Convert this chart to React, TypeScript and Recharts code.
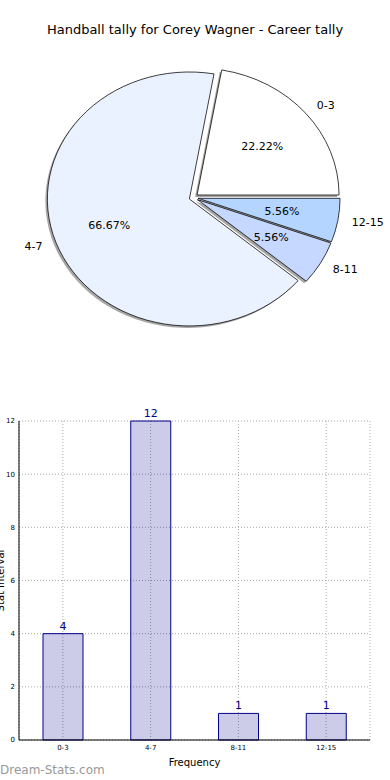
import { PieChart, Pie, Cell, BarChart, Bar, XAxis, YAxis, CartesianGrid, LabelList } from 'recharts';

const categories = ['0-3', '4-7', '8-11', '12-15'];
const counts = [4, 12, 1, 1];
const yTicks = [0, 2, 4, 6, 8, 10, 12];

const sliceColors = ['#ffffff', '#ebf2ff', '#c6d8ff', '#b3d5ff'];

const FONT = '"DejaVu Sans", sans-serif';

// pie geometry (unscaled circle, squashed vertically into an ellipse like matplotlib)
const R = 142;
const K = 127 / 142;
const CX = 193.6;
const CY = 197.6;
const EXPLODE = 4.5;
const RAD = Math.PI / 180;

const pieData = categories.map((name, i) => ({ name, value: counts[i] }));
const barData = categories.map((name, i) => ({ name, count: counts[i] }));

const total = counts.reduce((a, b) => a + b, 0);
const midAngles = counts.map((v, i) => {
  const before = counts.slice(0, i).reduce((a, b) => a + b, 0);
  return (360 * (before + v / 2)) / total;
});

function makeLabel(target: number) {
  return (props: any) => {
    if (props.index !== target) return null;
    const { cx, cy, midAngle, percent, name } = props;
    const cos = Math.cos(midAngle * RAD);
    const sin = Math.sin(midAngle * RAD);
    const px = cx + 0.6 * R * cos;
    const py = cy - 0.6 * R * sin;
    const lx = cx + 1.1 * R * cos;
    const ly = cy - 1.1 * R * sin;
    return (
      <g>
        <text
          x={0}
          y={0}
          transform={`translate(${px} ${py}) scale(1 ${1 / K})`}
          textAnchor="middle"
          dominantBaseline="central"
          fontSize={11}
          fontFamily={FONT}
          fill="#000"
        >
          {(percent * 100).toFixed(2)}%
        </text>
        <text
          x={0}
          y={0}
          transform={`translate(${lx} ${ly}) scale(1 ${1 / K})`}
          textAnchor={cos >= 0 ? 'start' : 'end'}
          dominantBaseline="central"
          fontSize={11}
          fontFamily={FONT}
          fill="#000"
        >
          {name}
        </text>
      </g>
    );
  };
}

function slicePie(i: number, shadow: boolean) {
  const dx = EXPLODE * Math.cos(midAngles[i] * RAD) + (shadow ? -2 : 0);
  const dy = -EXPLODE * Math.sin(midAngles[i] * RAD) + (shadow ? 2 / K : 0);
  return (
    <Pie
      key={(shadow ? 's' : 'p') + i}
      data={pieData}
      dataKey="value"
      nameKey="name"
      cx={CX + dx}
      cy={CY + dy}
      outerRadius={R}
      startAngle={0}
      endAngle={360}
      isAnimationActive={false}
      labelLine={false}
      label={shadow ? false : makeLabel(i)}
    >
      {pieData.map((d, j) => (
        <Cell
          key={d.name}
          fill={j === i ? (shadow ? '#4d4d4d' : sliceColors[j]) : 'none'}
          fillOpacity={shadow ? 0.5 : 1}
          stroke={j === i && !shadow ? '#000' : 'none'}
          strokeWidth={0.8}
        />
      ))}
    </Pie>
  );
}

export default function App() {
  return (
    <div style={{ position: 'absolute', left: 0, top: 0, width: 390, height: 780, background: '#fff', fontFamily: FONT, overflow: 'hidden' }}>
      <div style={{ position: 'absolute', left: 0, top: 22, width: 390, textAlign: 'center', fontSize: 13, color: '#000' }}>
        Handball tally for Corey Wagner - Career tally
      </div>

      <div style={{ position: 'absolute', left: 0, top: 0, width: 390, height: 400, transform: `scaleY(${K})`, transformOrigin: `0 ${CY}px` }}>
        <PieChart width={390} height={400} margin={{ top: 0, right: 0, bottom: 0, left: 0 }}>
          {categories.map((_, i) => slicePie(i, true))}
          {categories.map((_, i) => slicePie(i, false))}
        </PieChart>
      </div>

      <div style={{ position: 'absolute', left: 0, top: 400 }}>
        <BarChart width={390} height={380} data={barData} margin={{ top: 21, right: 20, left: 0, bottom: 0 }} barSize={40}>
          <CartesianGrid stroke="#a8a8a8" strokeDasharray="1 2" />
          <XAxis
            dataKey="name"
            height={40}
            tickSize={0}
            tickMargin={5}
            axisLine={{ stroke: '#000' }}
            tick={{ fontSize: 7, fill: '#000', fontFamily: FONT }}
            label={{ value: 'Frequency', position: 'insideBottom', offset: 14, fontSize: 10, fill: '#000', fontFamily: FONT }}
          />
          <XAxis xAxisId="top" dataKey="name" orientation="top" height={0} tick={false} tickLine={false} axisLine={{ stroke: '#000' }} />
          <YAxis
            domain={[0, 12]}
            ticks={yTicks}
            width={19}
            tickSize={0}
            tickMargin={4}
            axisLine={{ stroke: '#000' }}
            tick={{ fontSize: 7, fill: '#000', fontFamily: FONT }}
            label={{ value: 'Stat Interval', angle: -90, position: 'insideLeft', offset: 0, fontSize: 10, fill: '#000', fontFamily: FONT, style: { textAnchor: 'middle' } }}
          />
          <YAxis yAxisId="right" orientation="right" width={0} domain={[0, 12]} tick={false} tickLine={false} axisLine={{ stroke: '#000' }} />
          <Bar dataKey="count" fill="#00008b" fillOpacity={0.2} stroke="#00008b" strokeWidth={1} isAnimationActive={false}>
            <LabelList dataKey="count" position="top" offset={4} fill="#00008b" fontSize={11} fontFamily={FONT} />
          </Bar>
        </BarChart>
      </div>

      <div style={{ position: 'absolute', left: 0, top: 763, fontSize: 12, color: '#999' }}>Dream-Stats.com</div>
    </div>
  );
}
